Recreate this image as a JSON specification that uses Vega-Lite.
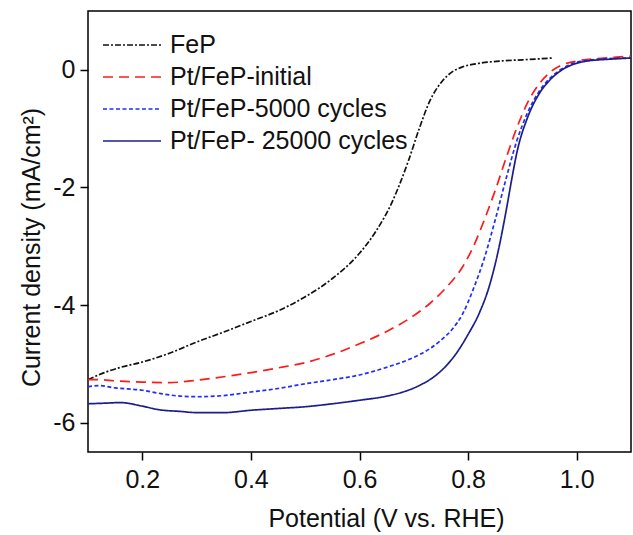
{
  "$schema": "https://vega.github.io/schema/vega-lite/v6.json",
  "width": 543,
  "height": 441,
  "autosize": {"type": "none"},
  "padding": {"left": 88, "top": 11, "right": 2, "bottom": 83},
  "background": "white",
  "config": {
    "view": {"stroke": "black", "strokeWidth": 1.5},
    "font": "Liberation Sans",
    "axis": {"grid": false, "domain": false, "ticks": true, "tickColor": "black", "tickWidth": 1.5, "tickSize": 8, "labelFont": "Liberation Sans", "labelFontSize": 25, "labelColor": "#111", "titleFont": "Liberation Sans", "titleFontSize": 25, "titleFontWeight": "normal", "titleColor": "#111"}
  },
  "data": {"values": [
    {"s": "FeP", "x": 0.1, "y": -5.27}, {"s": "FeP", "x": 0.13, "y": -5.15}, {"s": "FeP", "x": 0.16, "y": -5.06}, {"s": "FeP", "x": 0.2, "y": -4.97}, {"s": "FeP", "x": 0.25, "y": -4.82}, {"s": "FeP", "x": 0.3, "y": -4.63}, {"s": "FeP", "x": 0.35, "y": -4.46}, {"s": "FeP", "x": 0.4, "y": -4.28}, {"s": "FeP", "x": 0.45, "y": -4.1}, {"s": "FeP", "x": 0.5, "y": -3.86}, {"s": "FeP", "x": 0.55, "y": -3.55}, {"s": "FeP", "x": 0.6, "y": -3.12}, {"s": "FeP", "x": 0.63, "y": -2.75}, {"s": "FeP", "x": 0.66, "y": -2.25}, {"s": "FeP", "x": 0.69, "y": -1.55}, {"s": "FeP", "x": 0.71, "y": -1.0}, {"s": "FeP", "x": 0.73, "y": -0.52}, {"s": "FeP", "x": 0.75, "y": -0.22}, {"s": "FeP", "x": 0.77, "y": -0.04}, {"s": "FeP", "x": 0.79, "y": 0.05}, {"s": "FeP", "x": 0.82, "y": 0.11}, {"s": "FeP", "x": 0.86, "y": 0.15}, {"s": "FeP", "x": 0.9, "y": 0.17}, {"s": "FeP", "x": 0.955, "y": 0.2},
    {"s": "Pt/FeP-initial", "x": 0.1, "y": -5.27}, {"s": "Pt/FeP-initial", "x": 0.12, "y": -5.27}, {"s": "Pt/FeP-initial", "x": 0.15, "y": -5.29}, {"s": "Pt/FeP-initial", "x": 0.2, "y": -5.31}, {"s": "Pt/FeP-initial", "x": 0.25, "y": -5.32}, {"s": "Pt/FeP-initial", "x": 0.3, "y": -5.28}, {"s": "Pt/FeP-initial", "x": 0.35, "y": -5.22}, {"s": "Pt/FeP-initial", "x": 0.4, "y": -5.15}, {"s": "Pt/FeP-initial", "x": 0.45, "y": -5.07}, {"s": "Pt/FeP-initial", "x": 0.5, "y": -4.98}, {"s": "Pt/FeP-initial", "x": 0.55, "y": -4.84}, {"s": "Pt/FeP-initial", "x": 0.6, "y": -4.66}, {"s": "Pt/FeP-initial", "x": 0.65, "y": -4.45}, {"s": "Pt/FeP-initial", "x": 0.7, "y": -4.18}, {"s": "Pt/FeP-initial", "x": 0.73, "y": -3.97}, {"s": "Pt/FeP-initial", "x": 0.76, "y": -3.7}, {"s": "Pt/FeP-initial", "x": 0.79, "y": -3.35}, {"s": "Pt/FeP-initial", "x": 0.81, "y": -3.0}, {"s": "Pt/FeP-initial", "x": 0.83, "y": -2.55}, {"s": "Pt/FeP-initial", "x": 0.85, "y": -2.05}, {"s": "Pt/FeP-initial", "x": 0.87, "y": -1.5}, {"s": "Pt/FeP-initial", "x": 0.89, "y": -0.98}, {"s": "Pt/FeP-initial", "x": 0.91, "y": -0.55}, {"s": "Pt/FeP-initial", "x": 0.93, "y": -0.25}, {"s": "Pt/FeP-initial", "x": 0.95, "y": -0.05}, {"s": "Pt/FeP-initial", "x": 0.97, "y": 0.07}, {"s": "Pt/FeP-initial", "x": 1.0, "y": 0.15}, {"s": "Pt/FeP-initial", "x": 1.05, "y": 0.2}, {"s": "Pt/FeP-initial", "x": 1.1, "y": 0.23},
    {"s": "Pt/FeP-5000 cycles", "x": 0.1, "y": -5.39}, {"s": "Pt/FeP-5000 cycles", "x": 0.12, "y": -5.37}, {"s": "Pt/FeP-5000 cycles", "x": 0.15, "y": -5.41}, {"s": "Pt/FeP-5000 cycles", "x": 0.2, "y": -5.45}, {"s": "Pt/FeP-5000 cycles", "x": 0.23, "y": -5.5}, {"s": "Pt/FeP-5000 cycles", "x": 0.27, "y": -5.55}, {"s": "Pt/FeP-5000 cycles", "x": 0.3, "y": -5.56}, {"s": "Pt/FeP-5000 cycles", "x": 0.35, "y": -5.54}, {"s": "Pt/FeP-5000 cycles", "x": 0.4, "y": -5.48}, {"s": "Pt/FeP-5000 cycles", "x": 0.45, "y": -5.42}, {"s": "Pt/FeP-5000 cycles", "x": 0.5, "y": -5.34}, {"s": "Pt/FeP-5000 cycles", "x": 0.55, "y": -5.27}, {"s": "Pt/FeP-5000 cycles", "x": 0.6, "y": -5.19}, {"s": "Pt/FeP-5000 cycles", "x": 0.65, "y": -5.06}, {"s": "Pt/FeP-5000 cycles", "x": 0.7, "y": -4.89}, {"s": "Pt/FeP-5000 cycles", "x": 0.73, "y": -4.74}, {"s": "Pt/FeP-5000 cycles", "x": 0.75, "y": -4.6}, {"s": "Pt/FeP-5000 cycles", "x": 0.77, "y": -4.42}, {"s": "Pt/FeP-5000 cycles", "x": 0.79, "y": -4.15}, {"s": "Pt/FeP-5000 cycles", "x": 0.81, "y": -3.72}, {"s": "Pt/FeP-5000 cycles", "x": 0.83, "y": -3.2}, {"s": "Pt/FeP-5000 cycles", "x": 0.85, "y": -2.55}, {"s": "Pt/FeP-5000 cycles", "x": 0.87, "y": -1.85}, {"s": "Pt/FeP-5000 cycles", "x": 0.89, "y": -1.2}, {"s": "Pt/FeP-5000 cycles", "x": 0.91, "y": -0.72}, {"s": "Pt/FeP-5000 cycles", "x": 0.93, "y": -0.38}, {"s": "Pt/FeP-5000 cycles", "x": 0.95, "y": -0.15}, {"s": "Pt/FeP-5000 cycles", "x": 0.97, "y": 0.0}, {"s": "Pt/FeP-5000 cycles", "x": 0.99, "y": 0.1}, {"s": "Pt/FeP-5000 cycles", "x": 1.02, "y": 0.16}, {"s": "Pt/FeP-5000 cycles", "x": 1.06, "y": 0.19}, {"s": "Pt/FeP-5000 cycles", "x": 1.1, "y": 0.2},
    {"s": "Pt/FeP- 25000 cycles", "x": 0.1, "y": -5.68}, {"s": "Pt/FeP- 25000 cycles", "x": 0.13, "y": -5.67}, {"s": "Pt/FeP- 25000 cycles", "x": 0.16, "y": -5.66}, {"s": "Pt/FeP- 25000 cycles", "x": 0.2, "y": -5.72}, {"s": "Pt/FeP- 25000 cycles", "x": 0.23, "y": -5.78}, {"s": "Pt/FeP- 25000 cycles", "x": 0.27, "y": -5.81}, {"s": "Pt/FeP- 25000 cycles", "x": 0.3, "y": -5.83}, {"s": "Pt/FeP- 25000 cycles", "x": 0.35, "y": -5.83}, {"s": "Pt/FeP- 25000 cycles", "x": 0.4, "y": -5.79}, {"s": "Pt/FeP- 25000 cycles", "x": 0.45, "y": -5.76}, {"s": "Pt/FeP- 25000 cycles", "x": 0.5, "y": -5.73}, {"s": "Pt/FeP- 25000 cycles", "x": 0.55, "y": -5.68}, {"s": "Pt/FeP- 25000 cycles", "x": 0.6, "y": -5.62}, {"s": "Pt/FeP- 25000 cycles", "x": 0.65, "y": -5.55}, {"s": "Pt/FeP- 25000 cycles", "x": 0.68, "y": -5.48}, {"s": "Pt/FeP- 25000 cycles", "x": 0.71, "y": -5.37}, {"s": "Pt/FeP- 25000 cycles", "x": 0.74, "y": -5.2}, {"s": "Pt/FeP- 25000 cycles", "x": 0.76, "y": -5.03}, {"s": "Pt/FeP- 25000 cycles", "x": 0.78, "y": -4.8}, {"s": "Pt/FeP- 25000 cycles", "x": 0.8, "y": -4.5}, {"s": "Pt/FeP- 25000 cycles", "x": 0.82, "y": -4.15}, {"s": "Pt/FeP- 25000 cycles", "x": 0.84, "y": -3.65}, {"s": "Pt/FeP- 25000 cycles", "x": 0.855, "y": -3.1}, {"s": "Pt/FeP- 25000 cycles", "x": 0.87, "y": -2.4}, {"s": "Pt/FeP- 25000 cycles", "x": 0.88, "y": -1.88}, {"s": "Pt/FeP- 25000 cycles", "x": 0.89, "y": -1.4}, {"s": "Pt/FeP- 25000 cycles", "x": 0.91, "y": -0.8}, {"s": "Pt/FeP- 25000 cycles", "x": 0.93, "y": -0.42}, {"s": "Pt/FeP- 25000 cycles", "x": 0.95, "y": -0.18}, {"s": "Pt/FeP- 25000 cycles", "x": 0.97, "y": -0.02}, {"s": "Pt/FeP- 25000 cycles", "x": 0.99, "y": 0.08}, {"s": "Pt/FeP- 25000 cycles", "x": 1.02, "y": 0.15}, {"s": "Pt/FeP- 25000 cycles", "x": 1.06, "y": 0.18}, {"s": "Pt/FeP- 25000 cycles", "x": 1.1, "y": 0.2}
  ]},
  "mark": {"type": "line", "strokeWidth": 1.7, "clip": true, "interpolate": "monotone"},
  "encoding": {
    "x": {"field": "x", "type": "quantitative", "scale": {"domain": [0.1, 1.1], "nice": false, "zero": false}, "axis": {"values": [0.2, 0.4, 0.6, 0.8, 1.0], "format": ".1f", "labelPadding": 7, "title": "Potential (V vs. RHE)", "titlePadding": 14, "titleX": 298, "titleAlign": "center"}},
    "y": {"field": "y", "type": "quantitative", "scale": {"domain": [-6.5, 1.0], "nice": false, "zero": false}, "axis": {"values": [0, -2, -4, -6], "labelExpr": "datum.value == 0 ? '0' : '-' + abs(datum.value)", "labelPadding": 5, "title": "Current density (mA/cm²)", "titlePadding": 8, "titleY": 236, "titleAlign": "center"}},
    "color": {"field": "s", "type": "nominal", "scale": {"domain": ["FeP", "Pt/FeP-initial", "Pt/FeP-5000 cycles", "Pt/FeP- 25000 cycles"], "range": ["#111111", "#ff1a1a", "#1f2dff", "#1c1c8c"]},
      "legend": {"title": null, "orient": "none", "legendX": 25, "legendY": 15, "symbolType": "M-1.61,0H1.61", "symbolSize": 1300, "symbolStrokeWidth": 1.7, "labelFont": "Liberation Sans", "labelFontSize": 25, "labelColor": "#111", "labelOffset": 19, "labelLimit": 400, "rowPadding": 0, "padding": 0, "offset": 0}},
    "strokeDash": {"field": "s", "type": "nominal", "scale": {"domain": ["FeP", "Pt/FeP-initial", "Pt/FeP-5000 cycles", "Pt/FeP- 25000 cycles"], "range": [[6, 2, 2, 2], [10, 6], [4, 2.5], [1, 0]]},
      "legend": {"title": null, "orient": "none", "legendX": 25, "legendY": 15, "symbolType": "M-1.61,0H1.61", "symbolSize": 1300, "labelFontSize": 25, "labelOffset": 19, "labelLimit": 400, "rowPadding": 0, "padding": 0, "offset": 0}}
  }
}
